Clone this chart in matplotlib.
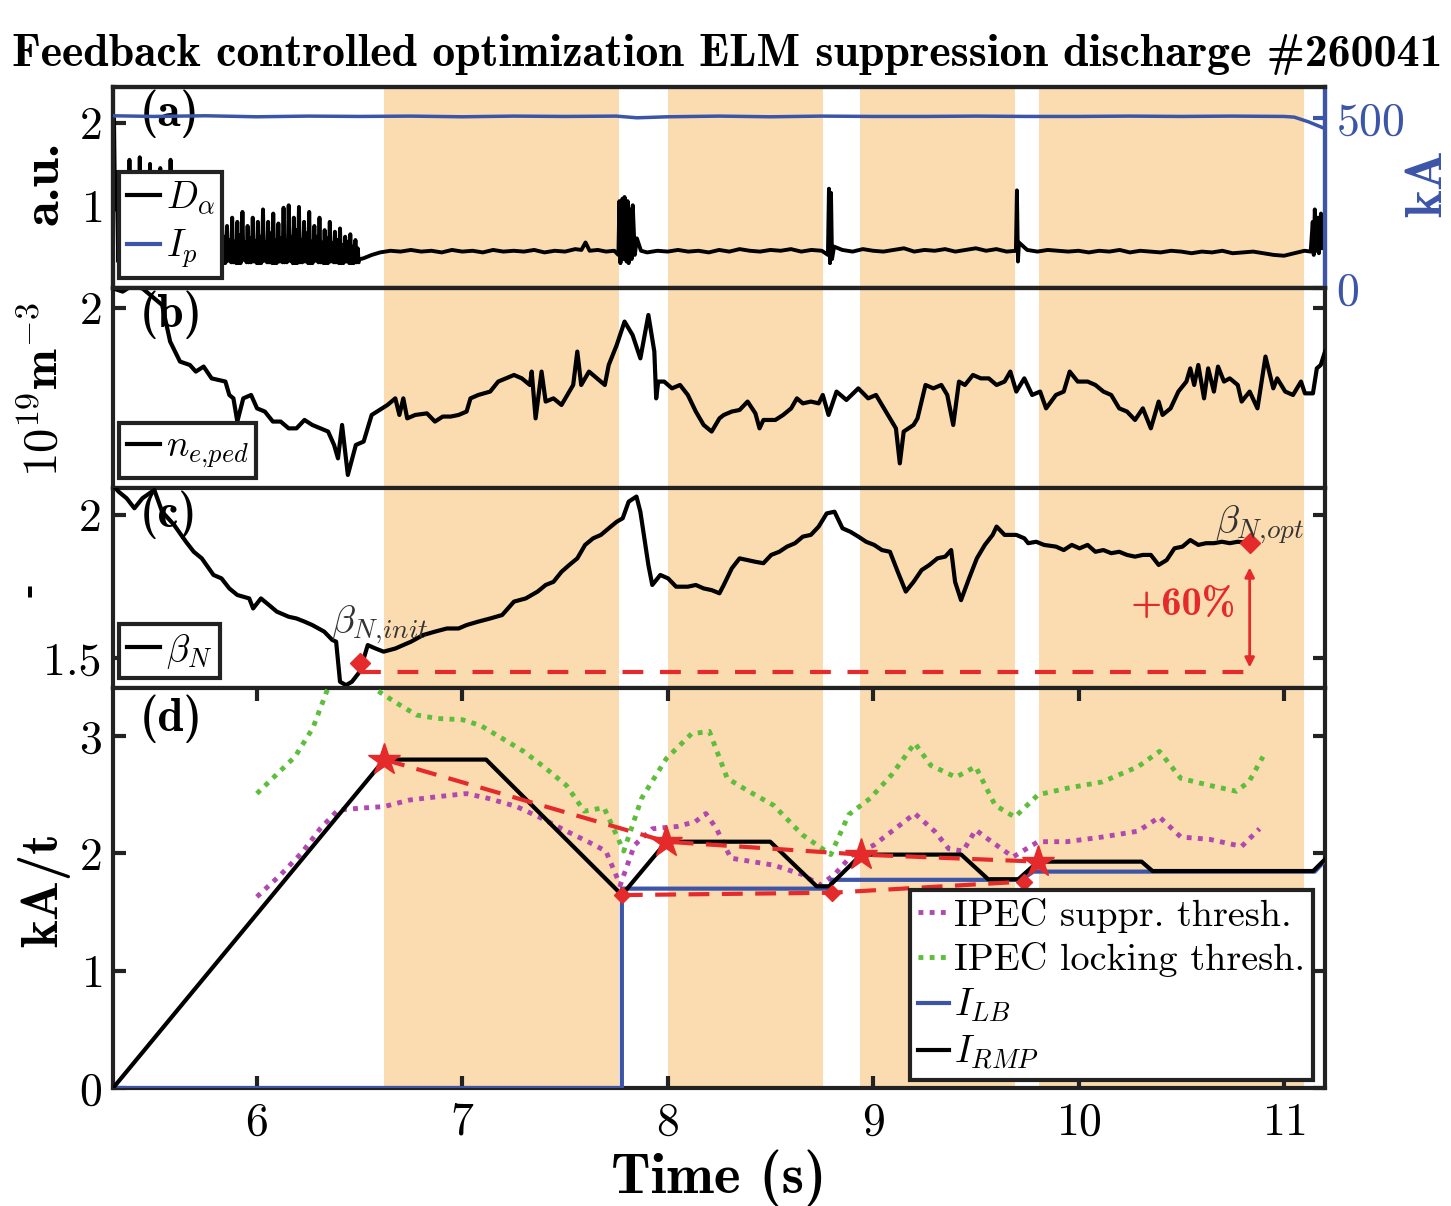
import matplotlib
matplotlib.use("Agg")
import matplotlib.pyplot as plt
from matplotlib.lines import Line2D

plt.rcParams['font.family'] = 'cmr10'
plt.rcParams['mathtext.fontset'] = 'cm'
plt.rcParams['axes.unicode_minus'] = False
plt.rcParams['axes.formatter.use_mathtext'] = True

# ---------------- data ----------------
xlim = (5.3, 11.2)
shade_start = [6.618, 8.001, 8.936, 9.807]
shade_end = [7.762, 8.756, 9.690, 11.097]

# (a) plasma current [kA]
ip_t = [5.30, 5.5, 5.75, 6.0, 6.25, 6.5, 6.75, 7.0, 7.25, 7.5, 7.75, 7.85, 8.0, 8.25, 8.5,
        8.75, 9.0, 9.25, 9.5, 9.75, 10.0, 10.25, 10.5, 10.75, 11.0, 11.05, 11.12, 11.2]
ip_kA = [508, 506, 508, 505, 507, 506, 507, 505, 507, 506, 507, 502, 505, 507, 505,
         507, 506, 506, 507, 506, 506, 507, 506, 507, 506, 504, 490, 470]

# (a) D-alpha: ELMy phase peaks, secondary peaks and troughs
elm_t = [5.300, 5.325, 5.350, 5.375, 5.400, 5.425, 5.450, 5.475, 5.500, 5.525, 5.550, 5.575,
         5.600, 5.625, 5.650, 5.675, 5.700, 5.725, 5.750, 5.775, 5.800, 5.825, 5.850, 5.875,
         5.900, 5.925, 5.950, 5.975, 6.000, 6.025, 6.050, 6.075, 6.100, 6.125, 6.150, 6.175,
         6.200, 6.225, 6.250, 6.275, 6.300, 6.325, 6.350, 6.375, 6.400, 6.425, 6.450, 6.475]
elm_peak = [2.05, 1.35, 1.10, 1.55, 1.20, 1.58, 1.30, 1.50, 1.15, 1.45, 1.25, 1.55,
            1.10, 1.40, 1.00, 0.95, 1.05, 0.90, 1.00, 0.85, 0.95, 0.90, 0.75, 0.85,
            0.80, 0.92, 0.75, 0.85, 0.80, 0.95, 0.80, 0.90, 0.78, 0.97, 1.00, 0.85,
            0.98, 0.80, 0.92, 0.75, 0.85, 0.70, 0.80, 0.68, 0.72, 0.62, 0.65, 0.58]
elm_mid = [1.40, 0.60, 0.70, 0.55, 0.65, 0.60, 0.72, 0.55, 0.62, 0.58, 0.66, 0.56,
           0.60, 0.55, 0.62, 0.58, 0.55, 0.63, 0.57, 0.60, 0.55, 0.62, 0.58, 0.56,
           0.64, 0.55, 0.60, 0.57, 0.62, 0.55, 0.66, 0.58, 0.60, 0.56, 0.62, 0.70,
           0.58, 0.66, 0.56, 0.62, 0.55, 0.60, 0.54, 0.58, 0.52, 0.56, 0.50, 0.48]
elm_base = [0.95, 0.32, 0.30, 0.34, 0.31, 0.33, 0.30, 0.35, 0.31, 0.33, 0.30, 0.32,
            0.31, 0.34, 0.30, 0.33, 0.31, 0.30, 0.34, 0.31, 0.32, 0.30, 0.33, 0.31,
            0.30, 0.34, 0.31, 0.32, 0.30, 0.33, 0.31, 0.30, 0.32, 0.31, 0.33, 0.30,
            0.31, 0.32, 0.30, 0.33, 0.31, 0.30, 0.32, 0.31, 0.30, 0.32, 0.30, 0.31]
# (a) D-alpha after ELM suppression
da_t = [6.49, 6.52, 6.56, 6.60, 6.65, 6.70, 6.75, 6.80, 6.85, 6.90, 6.95, 7.00, 7.05, 7.10,
        7.15, 7.20, 7.25, 7.30, 7.35, 7.40, 7.45, 7.50, 7.55, 7.58, 7.60, 7.62, 7.66, 7.70,
        7.74, 7.76, 7.765, 7.77, 7.78, 7.785, 7.79, 7.80, 7.805, 7.81, 7.82, 7.825, 7.83,
        7.84, 7.85, 7.87, 7.90, 7.95, 8.00, 8.05, 8.10, 8.15, 8.20, 8.25, 8.30, 8.35, 8.40,
        8.45, 8.50, 8.55, 8.60, 8.65, 8.70, 8.75, 8.78, 8.785, 8.79, 8.795, 8.80, 8.81,
        8.85, 8.90, 8.95, 9.00, 9.05, 9.10, 9.15, 9.20, 9.25, 9.30, 9.35, 9.40, 9.45,
        9.50, 9.55, 9.60, 9.65, 9.69, 9.695, 9.70, 9.705, 9.71, 9.75, 9.80, 9.85, 9.90,
        9.95, 10.00, 10.05, 10.10, 10.15, 10.20, 10.25, 10.30, 10.35, 10.40, 10.45, 10.50,
        10.55, 10.60, 10.65, 10.70, 10.75, 10.80, 10.85, 10.90, 10.95, 11.00, 11.05, 11.10,
        11.13, 11.14, 11.145, 11.15, 11.16, 11.165, 11.17, 11.18, 11.185, 11.19, 11.2]
da = [0.34, 0.36, 0.40, 0.43, 0.45, 0.44, 0.46, 0.44, 0.45, 0.43, 0.46, 0.44, 0.45, 0.43,
      0.46, 0.44, 0.45, 0.44, 0.46, 0.43, 0.45, 0.44, 0.47, 0.46, 0.55, 0.45, 0.46, 0.44,
      0.45, 0.40, 1.05, 0.30, 1.08, 0.35, 1.10, 0.32, 1.05, 0.30, 0.95, 0.35, 1.00,
      0.40, 0.60, 0.45, 0.43, 0.45, 0.44, 0.46, 0.44, 0.45, 0.43, 0.46, 0.44, 0.47, 0.45,
      0.44, 0.46, 0.45, 0.47, 0.44, 0.46, 0.45, 0.40, 1.20, 0.30, 1.15, 0.35, 0.50,
      0.46, 0.44, 0.47, 0.45, 0.44, 0.46, 0.48, 0.44, 0.46, 0.45, 0.47, 0.44, 0.46,
      0.48, 0.45, 0.47, 0.44, 0.45, 0.45, 1.18, 0.32, 0.55, 0.46, 0.44, 0.46, 0.45,
      0.44, 0.45, 0.43, 0.45, 0.44, 0.46, 0.43, 0.45, 0.44, 0.43, 0.45, 0.44,
      0.42, 0.44, 0.43, 0.45, 0.42, 0.43, 0.44, 0.42, 0.40, 0.39, 0.42, 0.45,
      0.44, 0.80, 0.40, 0.95, 0.45, 0.85, 0.42, 0.90, 0.48, 0.88, 0.60]

# (b) pedestal density [1e19 m^-3]
ne_t = [5.30, 5.347, 5.385, 5.443, 5.481, 5.539, 5.578, 5.626, 5.674, 5.703, 5.741, 5.780,
        5.847, 5.866, 5.886, 5.905, 5.934, 5.972, 6.001, 6.039, 6.078, 6.116, 6.155, 6.193,
        6.232, 6.270, 6.309, 6.347, 6.376, 6.395, 6.415, 6.443, 6.482, 6.520, 6.559, 6.597,
        6.636, 6.674, 6.694, 6.713, 6.732, 6.771, 6.828, 6.867, 6.905, 6.944, 6.982, 7.021,
        7.040, 7.078, 7.136, 7.175, 7.213, 7.252, 7.290, 7.329, 7.338, 7.357, 7.386, 7.406,
        7.444, 7.483, 7.521, 7.540, 7.560, 7.579, 7.617, 7.656, 7.694, 7.713, 7.752, 7.790,
        7.829, 7.867, 7.906, 7.935, 7.944, 7.954, 7.983, 8.021, 8.060, 8.098, 8.137, 8.175,
        8.214, 8.252, 8.273, 8.312, 8.350, 8.389, 8.427, 8.447, 8.466, 8.524, 8.562, 8.601,
        8.629, 8.658, 8.697, 8.735, 8.755, 8.783, 8.822, 8.870, 8.928, 8.976, 9.014, 9.043,
        9.082, 9.111, 9.130, 9.149, 9.197, 9.216, 9.255, 9.293, 9.332, 9.361, 9.390, 9.418,
        9.447, 9.486, 9.524, 9.563, 9.601, 9.640, 9.668, 9.697, 9.736, 9.774, 9.813, 9.842,
        9.890, 9.928, 9.957, 9.996, 10.044, 10.082, 10.121, 10.159, 10.198, 10.236, 10.275,
        10.313, 10.352, 10.390, 10.409, 10.448, 10.486, 10.525, 10.544, 10.563, 10.583,
        10.611, 10.631, 10.659, 10.679, 10.708, 10.736, 10.775, 10.794, 10.833, 10.871,
        10.910, 10.948, 10.967, 11.006, 11.044, 11.083, 11.102, 11.141, 11.160, 11.179, 11.2]
ne_ped = [2.098, 2.082, 2.107, 2.098, 2.065, 2.015, 1.832, 1.732, 1.715, 1.682, 1.707, 1.648,
          1.632, 1.565, 1.548, 1.432, 1.548, 1.565, 1.498, 1.482, 1.432, 1.432, 1.398, 1.398,
          1.440, 1.415, 1.398, 1.382, 1.315, 1.248, 1.415, 1.165, 1.315, 1.332, 1.465, 1.490,
          1.515, 1.548, 1.465, 1.548, 1.448, 1.465, 1.473, 1.432, 1.457, 1.457, 1.465, 1.482,
          1.548, 1.565, 1.582, 1.632, 1.648, 1.665, 1.648, 1.615, 1.682, 1.448, 1.682, 1.532,
          1.548, 1.515, 1.582, 1.615, 1.782, 1.615, 1.682, 1.648, 1.615, 1.715, 1.815, 1.932,
          1.865, 1.748, 1.965, 1.782, 1.548, 1.632, 1.632, 1.598, 1.615, 1.565, 1.482, 1.415,
          1.382, 1.448, 1.465, 1.482, 1.490, 1.532, 1.473, 1.398, 1.440, 1.440, 1.465, 1.498,
          1.548, 1.523, 1.532, 1.523, 1.565, 1.465, 1.582, 1.540, 1.598, 1.548, 1.565, 1.515,
          1.448, 1.398, 1.223, 1.382, 1.415, 1.448, 1.615, 1.598, 1.615, 1.565, 1.415, 1.632,
          1.615, 1.665, 1.648, 1.648, 1.615, 1.632, 1.682, 1.582, 1.648, 1.565, 1.582, 1.498,
          1.565, 1.582, 1.682, 1.632, 1.632, 1.615, 1.582, 1.565, 1.498, 1.482, 1.440,
          1.498, 1.398, 1.532, 1.465, 1.498, 1.582, 1.632, 1.698, 1.615, 1.715,
          1.548, 1.698, 1.582, 1.707, 1.632, 1.648, 1.615, 1.532, 1.582, 1.498,
          1.757, 1.598, 1.648, 1.582, 1.565, 1.632, 1.573, 1.573, 1.698, 1.715, 1.782]

# (c) normalized beta
bn_t = [5.30, 5.327, 5.366, 5.404, 5.443, 5.501, 5.539, 5.597, 5.655, 5.693, 5.732, 5.789,
        5.828, 5.866, 5.905, 5.963, 5.982, 6.020, 6.059, 6.097, 6.155, 6.193, 6.232, 6.270,
        6.328, 6.367, 6.386, 6.405, 6.434, 6.463, 6.501, 6.540, 6.578, 6.617, 6.674, 6.713,
        6.751, 6.809, 6.867, 6.925, 6.982, 7.021, 7.078, 7.136, 7.194, 7.252, 7.309, 7.367,
        7.406, 7.444, 7.483, 7.521, 7.560, 7.598, 7.637, 7.675, 7.713, 7.752, 7.781, 7.810,
        7.848, 7.867, 7.906, 7.925, 7.964, 8.002, 8.041, 8.098, 8.137, 8.175, 8.214, 8.252,
        8.273, 8.312, 8.350, 8.389, 8.427, 8.466, 8.504, 8.543, 8.581, 8.620, 8.658, 8.697,
        8.735, 8.774, 8.812, 8.851, 8.889, 8.928, 8.966, 9.005, 9.043, 9.082, 9.120, 9.159,
        9.197, 9.236, 9.274, 9.313, 9.351, 9.380, 9.399, 9.428, 9.467, 9.505, 9.544, 9.582,
        9.601, 9.640, 9.697, 9.736, 9.755, 9.794, 9.832, 9.890, 9.928, 9.967, 10.005, 10.044,
        10.082, 10.121, 10.159, 10.198, 10.236, 10.275, 10.313, 10.352, 10.390, 10.429,
        10.467, 10.506, 10.544, 10.583, 10.621, 10.659, 10.698, 10.736, 10.775, 10.833]
beta_n = [2.104, 2.081, 2.058, 2.023, 2.058, 2.087, 2.011, 1.965, 1.906, 1.871, 1.848, 1.790,
          1.778, 1.743, 1.720, 1.708, 1.673, 1.708, 1.685, 1.662, 1.644, 1.638, 1.627, 1.615,
          1.592, 1.563, 1.557, 1.417, 1.405, 1.417, 1.452, 1.545, 1.533, 1.522, 1.533, 1.545,
          1.557, 1.580, 1.592, 1.603, 1.603, 1.615, 1.627, 1.638, 1.650, 1.697, 1.708, 1.732,
          1.755, 1.766, 1.801, 1.825, 1.848, 1.895, 1.918, 1.930, 1.953, 1.976, 1.988, 2.046,
          2.064, 2.011, 1.825, 1.755, 1.790, 1.778, 1.749, 1.749, 1.755, 1.743, 1.737, 1.726,
          1.755, 1.813, 1.848, 1.842, 1.836, 1.831, 1.860, 1.871, 1.889, 1.901, 1.924, 1.930,
          1.959, 2.005, 2.011, 1.953, 1.941, 1.924, 1.906, 1.895, 1.877, 1.871, 1.801, 1.732,
          1.766, 1.807, 1.825, 1.848, 1.854, 1.877, 1.766, 1.702, 1.778, 1.848, 1.895, 1.930,
          1.959, 1.930, 1.930, 1.918, 1.901, 1.906, 1.895, 1.889, 1.877, 1.895, 1.883, 1.895,
          1.871, 1.877, 1.866, 1.871, 1.860, 1.854, 1.860, 1.860, 1.825, 1.842,
          1.883, 1.889, 1.912, 1.895, 1.901, 1.901, 1.906, 1.901, 1.906, 1.901]
bn_init = (6.50, 1.481)
bn_opt = (10.833, 1.901)
bn_ref_level = 1.452

# (d) coil currents [kA/t]
rmp_t = [5.30, 6.621, 7.116, 7.777, 7.994, 8.499, 8.725, 8.786, 8.942, 9.429, 9.56, 9.707,
         9.803, 10.307, 10.36, 11.142, 11.2]
i_rmp = [0.0, 2.80, 2.80, 1.646, 2.10, 2.10, 1.72, 1.72, 1.99, 1.99, 1.78, 1.78,
         1.93, 1.93, 1.85, 1.85, 1.95]
lb_t = [5.30, 7.777, 7.777, 8.79, 8.80, 9.72, 9.78, 11.15, 11.2]
i_lb = [0.0, 0.0, 1.70, 1.70, 1.775, 1.775, 1.845, 1.845, 1.94]
star_t = [6.621, 7.994, 8.942, 9.803]
star_v = [2.80, 2.10, 1.99, 1.93]
dia_t = [7.777, 8.80, 9.735]
dia_v = [1.645, 1.665, 1.76]
lock_t = [6.0, 6.186, 6.273, 6.34, 6.40, 6.55, 6.586, 6.673, 6.777, 6.881, 7.0, 7.09, 7.195,
          7.299, 7.403, 7.507, 7.594, 7.69, 7.786, 7.873, 7.994, 8.116, 8.203, 8.29, 8.394,
          8.516, 8.655, 8.794, 8.881, 8.986, 9.09, 9.203, 9.281, 9.403, 9.499, 9.594, 9.69,
          9.803, 9.942, 10.116, 10.29, 10.394, 10.498, 10.638, 10.768, 10.829, 10.898]
lock_thr = [2.51, 2.825, 3.07, 3.38, 3.6, 3.6, 3.39, 3.29, 3.18, 3.15, 3.14, 3.09, 2.98,
            2.87, 2.73, 2.58, 2.36, 2.39, 2.02, 2.47, 2.81, 3.02, 3.04, 2.64, 2.53,
            2.41, 2.16, 1.99, 2.33, 2.47, 2.67, 2.94, 2.75, 2.65, 2.74, 2.41, 2.31,
            2.50, 2.555, 2.61, 2.74, 2.87, 2.64, 2.58, 2.53, 2.61, 2.825]
supp_t = [6.0, 6.117, 6.221, 6.308, 6.395, 6.499, 6.621, 6.742, 6.881, 7.02, 7.125, 7.264,
          7.386, 7.507, 7.612, 7.699, 7.769, 7.838, 7.925, 8.047, 8.134, 8.186, 8.238, 8.307,
          8.412, 8.516, 8.655, 8.742, 8.812, 8.899, 9.003, 9.107, 9.203, 9.299, 9.368, 9.438,
          9.499, 9.577, 9.681, 9.803, 9.942, 10.116, 10.29, 10.394, 10.498, 10.638, 10.794, 10.881]
supp_thr = [1.63, 1.82, 2.01, 2.21, 2.37, 2.385, 2.40, 2.455, 2.484, 2.51, 2.47, 2.40,
            2.30, 2.19, 2.10, 2.02, 1.73, 2.07, 2.21, 2.23, 2.27, 2.34, 2.21, 1.96,
            1.93, 1.90, 1.82, 1.73, 1.82, 1.99, 2.07, 2.21, 2.34, 2.19, 2.04, 2.02,
            2.20, 2.10, 1.97, 2.10, 2.10, 2.14, 2.19, 2.31, 2.14, 2.12, 2.06, 2.21]

# ---------------- style ----------------
SHADE = '#FBDBB0'
BLUE = '#3C55A8'
RED = '#E42A2A'
MAG = '#B048B0'
GRN = '#5DBE3C'
SPINE = '#222222'
FS_TICK = 33
FS_LEG = 27
FS_PANEL = 34
LW_SP = 3.0

# D-alpha trace assembled from typed peaks/troughs
d_t, d_v = [], []
for t, p, m, b in zip(elm_t, elm_peak, elm_mid, elm_base):
    d_t += [t, t + 0.005, t + 0.010, t + 0.016, t + 0.021]
    d_v += [b, p, b, m, b]
d_t += da_t
d_v += da

fig = plt.figure(figsize=(14.51, 12.06), dpi=100)
L, W = 0.0779, 0.8353
ax_a = fig.add_axes([L, 0.7612, W, 0.9279 - 0.7612])
ax_b = fig.add_axes([L, 0.5954, W, 0.7612 - 0.5954])
ax_c = fig.add_axes([L, 0.4295, W, 0.5954 - 0.4295])
ax_d = fig.add_axes([L, 0.0978, W, 0.4295 - 0.0978])

for ax in (ax_a, ax_b, ax_c, ax_d):
    ax.set_xlim(*xlim)
    for s, e in zip(shade_start, shade_end):
        ax.axvspan(s, e, color=SHADE, lw=0, zorder=0)
    for sp in ax.spines.values():
        sp.set_linewidth(LW_SP)
        sp.set_color(SPINE)
    ax.tick_params(axis='both', direction='in', length=9, width=LW_SP,
                   labelsize=FS_TICK, color=SPINE, pad=8)

for ax in (ax_a, ax_b, ax_c):
    ax.tick_params(axis='x', bottom=False, top=False, labelbottom=False)


def small_legend(ax, handles, labels, **kw):
    lg = ax.legend(handles, labels, loc='lower left', bbox_to_anchor=(0.005, 0.05),
                   fontsize=FS_LEG, handlelength=0.9, handletextpad=0.15, borderpad=0.2,
                   labelspacing=0.3, fancybox=False, framealpha=1, edgecolor=SPINE,
                   borderaxespad=0, **kw)
    lg.get_frame().set_linewidth(LW_SP)
    return lg


# ---- (a)
ax_a.set_ylim(0, 2.43)
ax_a.set_yticks([1, 2])
ax_a.tick_params(axis='y', right=False)
ax_a.plot(d_t, d_v, color='black', lw=2.8, zorder=3)
ax_a2 = ax_a.twinx()
ax_a2.set_ylim(0, 593)
ax_a2.set_yticks([0, 500])
ax_a2.plot(ip_t, ip_kA, color=BLUE, lw=2.5, zorder=3)
for sp in ax_a2.spines.values():
    sp.set_linewidth(LW_SP)
    sp.set_color(SPINE)
ax_a2.spines['right'].set_color(BLUE)
ax_a2.tick_params(axis='y', direction='in', length=9, width=LW_SP, labelsize=FS_TICK,
                  colors=BLUE, pad=8)
small_legend(ax_a2, [Line2D([], [], color='black', lw=3), Line2D([], [], color=BLUE, lw=3)],
             [r'$D_\alpha$', r'$I_p$'])
ax_a.text(0.022, 0.985, '(a)', transform=ax_a.transAxes, ha='left', va='top',
          fontsize=FS_PANEL, family='cmb10', zorder=5)

# ---- (b)
ax_b.set_ylim(1.1, 2.1)
ax_b.set_yticks([2])
ax_b.tick_params(axis='y', right=True)
ax_b.plot(ne_t, ne_ped, color='black', lw=3, zorder=3)
small_legend(ax_b, [Line2D([], [], color='black', lw=3)], [r'$n_{e{,}ped}$'])
ax_b.text(0.022, 0.985, '(b)', transform=ax_b.transAxes, ha='left', va='top',
          fontsize=FS_PANEL, family='cmb10', zorder=2)

# ---- (c)
ax_c.set_ylim(1.395, 2.094)
ax_c.set_yticks([1.5, 2])
ax_c.set_yticklabels(['1.5', '2'])
ax_c.tick_params(axis='y', right=True)
ax_c.plot(bn_t, beta_n, color='black', lw=3, zorder=3)
ax_c.plot([bn_init[0], bn_opt[0]], [bn_ref_level, bn_ref_level], color=RED, lw=3,
          dashes=(5, 4), zorder=4)
ax_c.plot([bn_init[0], bn_opt[0]], [bn_init[1], bn_opt[1]], ls='none', marker='D',
          color=RED, ms=10, zorder=5)
ax_c.annotate('', xy=(bn_opt[0], bn_opt[1] - 0.075), xytext=(bn_opt[0], bn_ref_level + 0.005),
              arrowprops=dict(arrowstyle='<|-|>', color=RED, lw=2, mutation_scale=14),
              zorder=5)
ax_c.text(10.51, 1.685, '+60%', color=RED, fontsize=29, family='cmb10',
          ha='center', va='center', zorder=5)
ax_c.text(6.60, 1.615, r'$\beta_{N{,}init}$', color='#333333', fontsize=28,
          ha='center', va='center', zorder=5)
ax_c.text(10.88, 1.965, r'$\beta_{N{,}opt}$', color='#333333', fontsize=28,
          ha='center', va='center', zorder=5)
small_legend(ax_c, [Line2D([], [], color='black', lw=3)], [r'$\beta_N$'])
ax_c.text(0.022, 0.985, '(c)', transform=ax_c.transAxes, ha='left', va='top',
          fontsize=FS_PANEL, family='cmb10', zorder=2)

# ---- (d)
ax_d.set_ylim(0, 3.41)
ax_d.set_yticks([0, 1, 2, 3])
ax_d.set_xticks([6, 7, 8, 9, 10, 11])
ax_d.tick_params(axis='both', right=True, top=True)
ax_d.tick_params(axis='x', pad=10)
l_s, = ax_d.plot(supp_t, supp_thr, color=MAG, lw=3.5, ls=(0, (1, 1.3)), zorder=3)
l_l, = ax_d.plot(lock_t, lock_thr, color=GRN, lw=3.5, ls=(0, (1, 1.3)), zorder=3)
l_b, = ax_d.plot(lb_t, i_lb, color=BLUE, lw=3, zorder=4)
l_r, = ax_d.plot(rmp_t, i_rmp, color='black', lw=3, zorder=4)
ax_d.plot(star_t, star_v, color=RED, lw=3, dashes=(5, 3), zorder=5)
ax_d.plot(dia_t, dia_v, color=RED, lw=3, dashes=(5, 3), zorder=5)
ax_d.plot(star_t, star_v, ls='none', marker='*', color=RED, ms=24, zorder=6)
ax_d.plot(dia_t, dia_v, ls='none', marker='D', color=RED, ms=8, zorder=6)
leg = ax_d.legend([l_s, l_l, l_b, l_r],
                  ['IPEC suppr. thresh.', 'IPEC locking thresh.', r'$I_{LB}$', r'$I_{RMP}$'],
                  loc='lower right', bbox_to_anchor=(0.99, 0.02), fontsize=27.5,
                  handlelength=0.8, handletextpad=0.15, borderpad=0.2, labelspacing=0.25,
                  fancybox=False, framealpha=1, edgecolor=SPINE, borderaxespad=0)
leg.get_frame().set_linewidth(LW_SP)
leg.set_zorder(10)
ax_d.text(0.022, 0.985, '(d)', transform=ax_d.transAxes, ha='left', va='top',
          fontsize=FS_PANEL, family='cmb10', zorder=7)
ax_d.set_xlabel('Time (s)', fontsize=41, family='cmb10', labelpad=4)

# y labels
fig.text(0.031, 0.848, 'a.u.', rotation=90, fontsize=38, family='cmb10',
         ha='center', va='center')
fig.text(0.031, 0.677, r'$10^{19}\mathbf{m}^{-3}$', rotation=90, fontsize=35,
         ha='center', va='center')
fig.text(0.020, 0.511, '-', rotation=90, fontsize=30, family='cmb10',
         ha='center', va='center')
fig.text(0.030, 0.262, 'kA/t', rotation=90, fontsize=38, family='cmb10',
         ha='center', va='center')
fig.text(0.984, 0.848, 'kA', rotation=90, fontsize=38, family='cmb10', color=BLUE,
         ha='center', va='center')

fig.text(0.501, 0.955, 'Feedback controlled optimization ELM suppression discharge #260041',
         fontsize=33, family='cmb10', ha='center', va='center')

fig.savefig('out.png', dpi=100)
